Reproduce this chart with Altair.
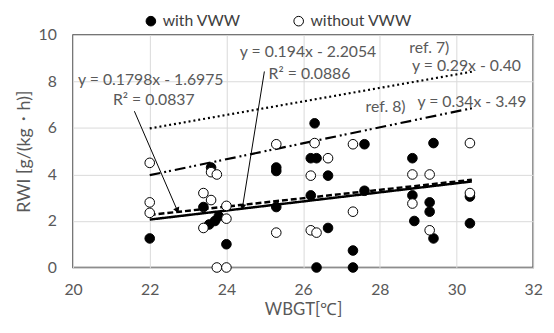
import altair as alt
import pandas as pd

# ---- data ----
with_x = [22.0, 23.6, 23.4, 23.7, 23.55, 23.8, 24.0, 25.3, 25.3, 25.3, 26.2, 26.35, 26.65, 26.2,
          26.3, 26.65, 26.35, 27.3, 27.3, 27.6, 27.6, 28.85, 28.85, 28.9, 29.3, 29.3, 29.4, 29.4,
          30.35, 30.35]
with_y = [1.25, 4.3, 2.6, 2.0, 1.85, 2.2, 1.0, 4.3, 4.15, 2.6, 4.7, 4.7, 3.95, 3.1,
          6.2, 1.7, 0.0, 0.73, 0.0, 5.3, 3.3, 4.7, 3.1, 2.0, 2.8, 2.4, 5.35, 1.25,
          3.05, 1.9]
without_x = [22.0, 22.0, 22.0, 23.6, 23.75, 23.4, 23.6, 24.0, 24.0, 23.4, 23.75, 24.0, 25.3, 25.3,
             26.3, 26.65, 26.2, 26.2, 26.35, 27.3, 27.3, 28.85, 28.85, 29.3, 29.3, 30.35, 30.35]
without_y = [4.5, 2.8, 2.35, 4.1, 4.0, 3.2, 2.9, 2.65, 2.1, 1.7, 0.0, 0.0, 5.3, 1.5,
             5.35, 4.7, 3.95, 1.6, 1.5, 5.3, 2.4, 4.0, 2.75, 4.0, 1.6, 5.35, 3.2]

groups = ["with VWW", "without VWW"]

line_names = ["with", "without", "ref7", "ref8"]
line_x0 = [22.0, 22.0, 22.0, 22.0]
line_x1 = [30.4, 30.4, 30.4, 30.4]
line_y0 = [2.06, 2.26, 5.98, 3.97]
line_y1 = [3.70, 3.77, 8.42, 6.85]
line_dash = [[1, 0], [6, 3], [2, 3], [11, 4, 2, 3, 2, 4]]
line_width = [2.5, 2.5, 2.2, 2.2]

ann_text = ["y = 0.194x - 2.2054", "R² = 0.0886", "y = 0.1798x - 1.6975", "R² = 0.0837",
            "ref. 7)", "y = 0.29x - 0.40", "ref. 8)", "y = 0.34x - 3.49"]
ann_x = [24.35, 25.1, 20.13, 21.04, 28.77, 28.84, 27.63, 28.98]
ann_y = [9.25, 8.3, 8.05, 7.2, 9.45, 8.67, 6.9, 7.12]

arrow_x0 = [21.6, 24.99]
arrow_y0 = [6.72, 8.43]
arrow_x1 = [22.72, 24.42]
arrow_y1 = [2.45, 2.6]
arrow_angle = [337, 9]

x_ticks = [20, 22, 24, 26, 28, 30, 32]
y_ticks = [0, 2, 4, 6, 8, 10]

FONT = "Lato"
GRAY = "#595959"

pts = pd.DataFrame({
    "x": with_x + without_x,
    "y": with_y + without_y,
    "g": [groups[0]] * len(with_x) + [groups[1]] * len(without_x),
})

lines = pd.DataFrame({
    "name": [n for n in line_names for _ in range(2)],
    "x": [v for a, b in zip(line_x0, line_x1) for v in (a, b)],
    "y": [v for a, b in zip(line_y0, line_y1) for v in (a, b)],
})

ann = pd.DataFrame({"t": ann_text, "x": ann_x, "y": ann_y})
arrows = pd.DataFrame({"x": arrow_x0, "y": arrow_y0, "x2": arrow_x1, "y2": arrow_y1, "a": arrow_angle})

xs = alt.Scale(domain=[20, 32], nice=False, zero=False)
ys = alt.Scale(domain=[0, 10], nice=False)

xax = alt.Axis(values=x_ticks, title="WBGT[℃]", grid=True, domain=False, ticks=False,
               labelPadding=14, titlePadding=5, labelFlush=False)
yax = alt.Axis(values=y_ticks, title="RWI [g/(kg・h)]", grid=True, domain=False, ticks=False,
               labelPadding=17, titlePadding=5, labelFlush=False, titleFontSize=18)

base_x = alt.X("x:Q", scale=xs, axis=xax)
base_y = alt.Y("y:Q", scale=ys, axis=yax)

line_layers = []
for n, d, w in zip(line_names, line_dash, line_width):
    line_layers.append(
        alt.Chart(lines[lines["name"] == n]).mark_line(color="black", strokeWidth=w, strokeDash=d)
        .encode(x=base_x, y=base_y)
    )

points = alt.Chart(pts).mark_point(shape="circle", filled=True, stroke="black", strokeWidth=1,
                                    size=95, opacity=1).encode(
    x=base_x, y=base_y,
    fill=alt.Fill("g:N", scale=alt.Scale(domain=groups, range=["black", "white"]),
                  legend=alt.Legend(title=None, orient="none", legendX=71, legendY=-22,
                                    direction="horizontal", columnPadding=50,
                                    symbolStrokeColor="black", symbolStrokeWidth=1,
                                    symbolSize=95, labelFontSize=16, labelFont=FONT,
                                    labelColor="#404040")),
)

texts = alt.Chart(ann).mark_text(align="left", baseline="middle", fontSize=16, font=FONT,
                                 color=GRAY).encode(x=base_x, y=base_y, text="t:N")

shafts = alt.Chart(arrows).mark_rule(color="black", strokeWidth=1).encode(
    x=base_x, y=base_y, x2="x2:Q", y2="y2:Q")
heads = alt.Chart(arrows).mark_point(shape="triangle-down", filled=True, color="black",
                                     size=45, opacity=1).encode(
    x=alt.X("x2:Q", scale=xs, axis=xax), y=alt.Y("y2:Q", scale=ys, axis=yax),
    angle=alt.Angle("a:Q", scale=None))

chart = alt.layer(*line_layers, shafts, heads, points, texts).properties(
    width=467, height=236,
    autosize=alt.AutoSizeParams(type="none"),
    padding={"left": 66, "top": 25, "right": 13, "bottom": 56},
).configure_view(stroke="#404040", strokeWidth=1.5).configure_axis(
    gridColor="#d9d9d9", gridWidth=1, labelFont=FONT, labelFontSize=16, labelColor=GRAY,
    titleFont=FONT, titleFontSize=17, titleColor=GRAY, titleFontWeight="normal",
).resolve_scale(fill="independent")

chart.save("out.html", embed_options={"renderer": "svg", "actions": False})
